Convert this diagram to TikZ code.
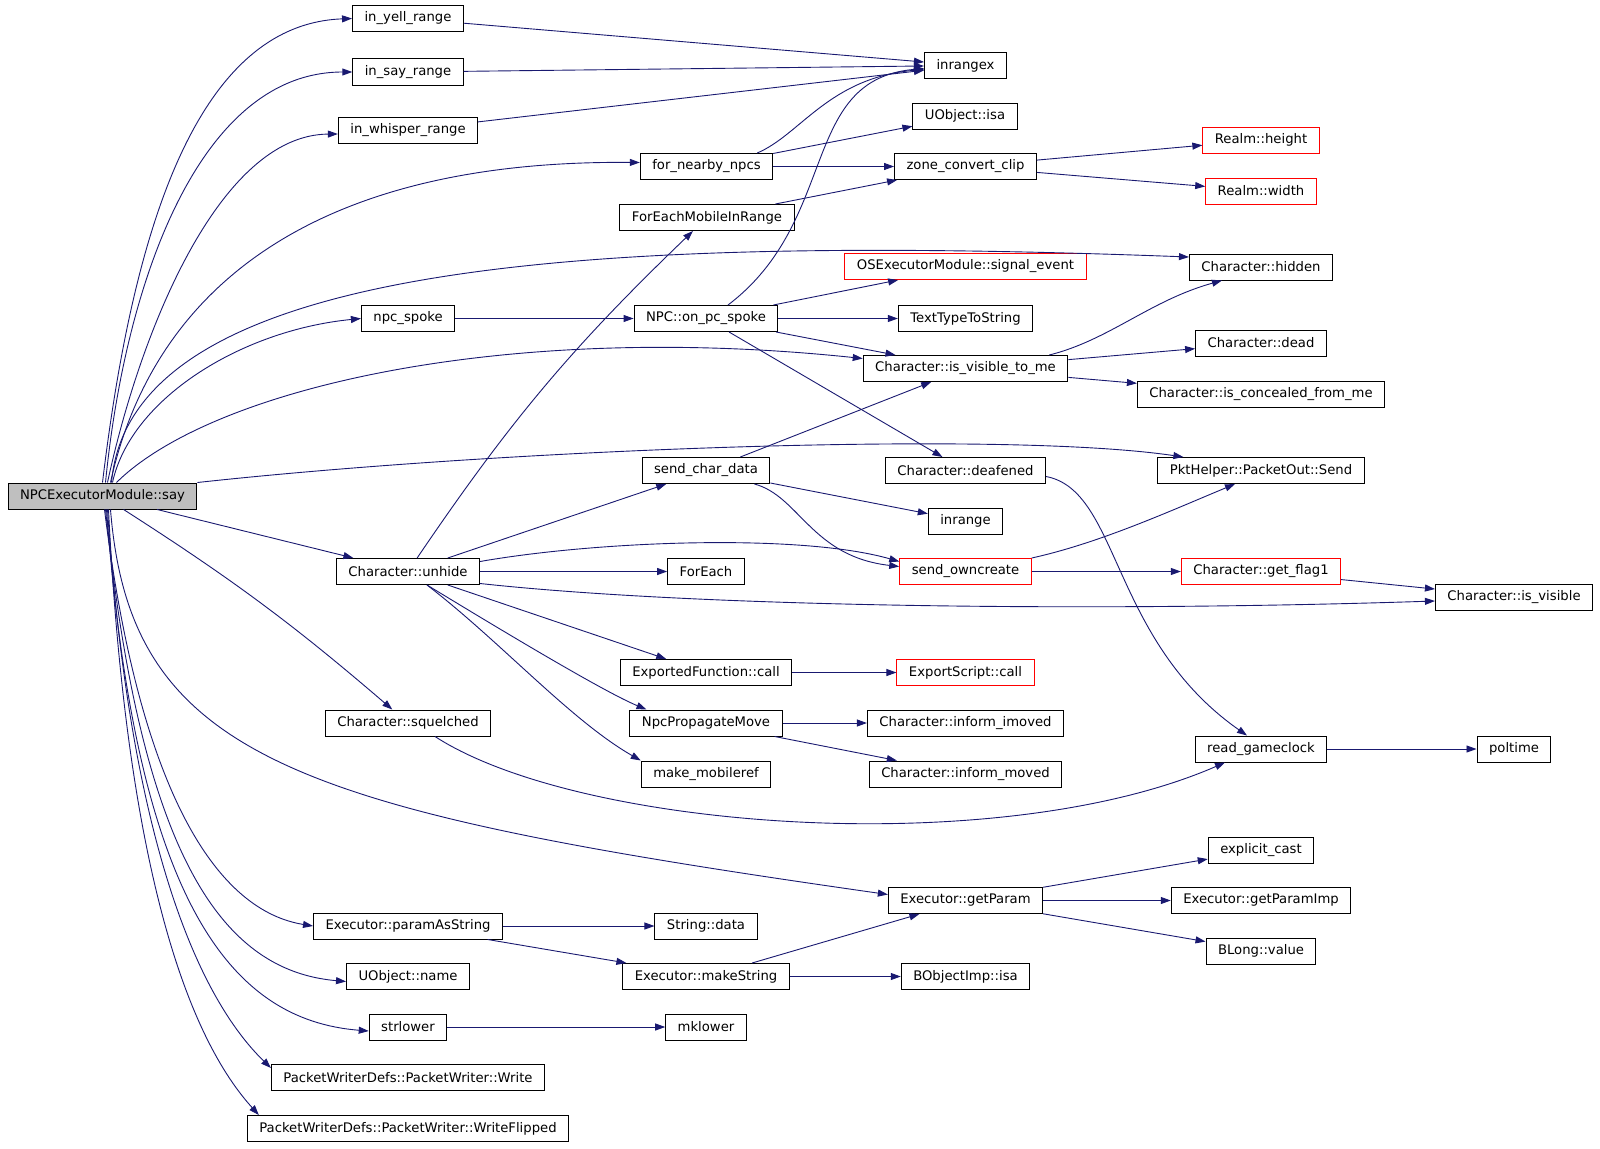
\documentclass[tikz,border=0pt]{standalone}
\usepackage{fontspec}
\setmainfont{DejaVu Sans}
\usetikzlibrary{arrows.meta}

\definecolor{callblue}{HTML}{191970}
\definecolor{rootgray}{HTML}{BFBFBF}

\begin{document}
\begin{tikzpicture}[x=1pt, y=-1pt,
    fn/.style={draw=black, line width=1pt, fill=white, minimum height=26pt,
        inner xsep=12pt, inner ysep=0pt, font=\fontsize{13.2}{16}\selectfont},
    undoc/.style={fn, draw=red},
    root/.style={fn, fill=rootgray},
    call/.style={draw=callblue, line width=0.9pt, -{Triangle[length=10pt,width=7pt]}}]
    \useasboundingbox (0,0) rectangle (1600,1148);

    \node[root] (say) at (102.5,496) {NPCExecutorModule::say};

    \node[fn] (inYellRange) at (408,18.5) {in\_yell\_range};
    \node[fn] (inSayRange) at (408,72) {in\_say\_range};
    \node[fn] (inWhisperRange) at (408,130) {in\_whisper\_range};
    \node[fn] (npcSpoke) at (408,318.5) {npc\_spoke};
    \node[fn] (charUnhide) at (408,571.5) {Character::unhide};
    \node[fn] (charSquelched) at (408,723) {Character::squelched};
    \node[fn] (paramAsString) at (408,926) {Executor::paramAsString};
    \node[fn] (uobjName) at (408,976.5) {UObject::name};
    \node[fn] (strLower) at (408,1027) {strlower};
    \node[fn] (pwWrite) at (408,1077.5) {PacketWriterDefs::PacketWriter::Write};
    \node[fn] (pwWriteFlipped) at (408,1128.5) {PacketWriterDefs::PacketWriter::WriteFlipped};

    \node[fn] (forNearbyNpcs) at (706.5,166.5) {for\_nearby\_npcs};
    \node[fn] (forEachMobile) at (707,217.5) {ForEachMobileInRange};
    \node[fn] (onPcSpoke) at (706,318.5) {NPC::on\_pc\_spoke};
    \node[fn] (sendCharData) at (706,470.5) {send\_char\_data};
    \node[fn] (forEach) at (706,571.5) {ForEach};
    \node[fn] (exportedCall) at (706,672.5) {ExportedFunction::call};
    \node[fn] (npcPropagateMove) at (706,723) {NpcPropagateMove};
    \node[fn] (makeMobileref) at (706,774) {make\_mobileref};
    \node[fn] (stringData) at (706,926) {String::data};
    \node[fn] (makeString) at (706,976.5) {Executor::makeString};
    \node[fn] (mkLower) at (706,1027) {mklower};

    \node[fn] (inRangeX) at (965.5,65.5) {inrangex};
    \node[fn] (uobjIsa) at (965,116) {UObject::isa};
    \node[fn] (zoneConvertClip) at (965.5,166.5) {zone\_convert\_clip};
    \node[undoc] (signalEvent) at (965.5,266.5) {OSExecutorModule::signal\_event};
    \node[fn] (textTypeToString) at (965.5,318.5) {TextTypeToString};
    \node[fn] (isVisibleToMe) at (965.5,368.5) {Character::is\_visible\_to\_me};
    \node[fn] (charDeafened) at (965.5,470.5) {Character::deafened};
    \node[fn] (inRange) at (965.5,521) {inrange};
    \node[undoc] (sendOwnCreate) at (965.5,571.5) {send\_owncreate};
    \node[undoc] (exportScriptCall) at (965.5,672.5) {ExportScript::call};
    \node[fn] (informImoved) at (965.5,723) {Character::inform\_imoved};
    \node[fn] (informMoved) at (965.5,774) {Character::inform\_moved};
    \node[fn] (getParam) at (965.5,900.5) {Executor::getParam};
    \node[fn] (bobjIsa) at (965.5,976.5) {BObjectImp::isa};

    \node[undoc] (realmHeight) at (1261,140) {Realm::height};
    \node[undoc] (realmWidth) at (1261,191) {Realm::width};
    \node[fn] (charHidden) at (1261,267) {Character::hidden};
    \node[fn] (charDead) at (1261,343) {Character::dead};
    \node[fn] (isConcealed) at (1261,394) {Character::is\_concealed\_from\_me};
    \node[fn] (packetSend) at (1261,470.5) {PktHelper::PacketOut::Send};
    \node[undoc] (getFlag) at (1261,571.5) {Character::get\_flag1};
    \node[fn] (readGameclock) at (1261,749) {read\_gameclock};
    \node[fn] (explicitCast) at (1261,850) {explicit\_cast};
    \node[fn] (getParamImp) at (1261,900.5) {Executor::getParamImp};
    \node[fn] (blongValue) at (1261,951) {BLong::value};

    \node[fn] (isVisible) at (1514,597) {Character::is\_visible};
    \node[fn] (polTime) at (1514,749) {poltime};

    % calls made by say
    \draw[call] (say.north) .. controls +(28,-233) and +(-162,6) .. (inYellRange.west);
    \draw[call] ([xshift=3pt]say.north) .. controls +(20,-203) and +(-152,0) .. (inSayRange.west);
    \draw[call] ([xshift=5pt]say.north) .. controls +(33,-153) and +(-118,1) .. ([yshift=-4pt]inWhisperRange.west);
    \draw[call] ([xshift=8pt]say.north) .. controls +(40,-183) and +(-340,-3) .. ([yshift=4pt]forNearbyNpcs.west);
    \draw[call] ([xshift=9pt]say.north) .. controls +(19,-223) and +(-589,-22) .. ([yshift=10pt]charHidden.west);
    \draw[call] ([xshift=10pt]say.north) .. controls +(18,-83) and +(-121,12) .. (npcSpoke.west);
    \draw[call] ([xshift=14pt]say.north) .. controls +(94,-93) and +(-362,-38) .. ([yshift=10pt]isVisibleToMe.west);
    \draw[call] (say.north east) .. controls +(302,-33) and +(-183,-27) .. ([xshift=26pt]packetSend.north west);
    \draw[call] (say) -- (charUnhide);
    \draw[call] (say) to[bend left=4] (charSquelched);
    \draw[call] ([xshift=8pt]say.south) .. controls +(20,251) and +(-589,-84) .. ([yshift=6pt]getParam.west);
    \draw[call] ([xshift=2pt]say.south) .. controls +(36,291) and +(-93,-15) .. (paramAsString.west);
    \draw[call] ([xshift=3pt]say.south) .. controls +(35,341) and +(-127,-11) .. ([yshift=-5pt]uobjName.west);
    \draw[call] ([xshift=4pt]say.south) .. controls +(29,391) and +(-139,-11) .. ([yshift=-4pt]strLower.west);
    \draw[call] ([xshift=5pt]say.south) .. controls +(23,341) and +(-70,-68) .. ([yshift=-4pt]pwWrite.north west);
    \draw[call] ([xshift=6pt]say.south) .. controls +(17,341) and +(-77,-85) .. ([xshift=12pt]pwWriteFlipped.north west);

    \draw[call] (inYellRange) -- (inRangeX);
    \draw[call] (inSayRange) -- (inRangeX);
    \draw[call] (inWhisperRange) -- (inRangeX);
    \draw[call] ([xshift=-16pt]forNearbyNpcs.north east) .. controls +(43,-18) and +(-95,8) .. ([yshift=-4pt]inRangeX.west);
    \draw[call] (forNearbyNpcs) -- (uobjIsa);
    \draw[call] (forNearbyNpcs) -- (zoneConvertClip);
    \draw[call] (forEachMobile) -- (zoneConvertClip);
    \draw[call] (zoneConvertClip) -- (realmHeight);
    \draw[call] (zoneConvertClip) -- (realmWidth);

    \draw[call] (npcSpoke) -- (onPcSpoke);
    \draw[call] ([xshift=22pt]onPcSpoke.north) .. controls +(112,-85) and +(-125,11) .. ([yshift=-3pt]inRangeX.west);
    \draw[call] (onPcSpoke) -- (signalEvent);
    \draw[call] (onPcSpoke) -- (textTypeToString);
    \draw[call] (onPcSpoke) -- (isVisibleToMe);
    \draw[call] (onPcSpoke) -- (charDeafened);
    \draw[call] ([xshift=-19pt]isVisibleToMe.north east) .. controls +(60,-15) and +(-72,20) .. ([xshift=33pt]charHidden.south west);
    \draw[call] (isVisibleToMe) -- (charDead);
    \draw[call] (isVisibleToMe) -- (isConcealed);

    \draw[call] (sendCharData) -- (isVisibleToMe);
    \draw[call] (sendCharData) -- (inRange);
    \draw[call] ([xshift=-16pt]sendCharData.south east) .. controls +(45,12) and +(-88,-10) .. ([yshift=5pt]sendOwnCreate.west);
    \draw[call] ([yshift=-6pt]charDeafened.east) .. controls +(74,14) and +(-137,-96) .. ([xshift=-14pt]readGameclock.north);

    \draw[call] (charUnhide) to[bend left=6] (forEachMobile);
    \draw[call] (charUnhide) -- (sendCharData);
    \draw[call] ([yshift=10pt]charUnhide.east) .. controls +(120,-21) and +(-98,-28) .. ([yshift=10pt]sendOwnCreate.west);
    \draw[call] (charUnhide) -- (forEach);
    \draw[call] ([yshift=-12pt]charUnhide.east) .. controls +(220,24) and +(-336,11) .. ([yshift=-4pt]isVisible.west);
    \draw[call] (charUnhide) -- (exportedCall);
    \draw[call] ([xshift=19pt]charUnhide.south) .. controls +(43,26) and +(-48,-20) .. ([xshift=17pt]npcPropagateMove.north west);
    \draw[call] ([xshift=19pt]charUnhide.south) .. controls +(73,56) and +(-70,-40) .. (makeMobileref.north west);
    \draw[call] (sendOwnCreate.north east) .. controls +(68,-15) and +(-65,27) .. ([xshift=-26pt]packetSend.south);
    \draw[call] (sendOwnCreate) -- (getFlag);
    \draw[call] (getFlag) -- (isVisible);

    \draw[call] (exportedCall) -- (exportScriptCall);
    \draw[call] (npcPropagateMove) -- (informImoved);
    \draw[call] (npcPropagateMove) -- (informMoved);
    \draw[call] ([xshift=27pt]charSquelched.south) .. controls +(145,94) and +(-225,98) .. ([xshift=-36pt]readGameclock.south);
    \draw[call] (readGameclock) -- (polTime);

    \draw[call] (getParam) -- (explicitCast);
    \draw[call] (getParam) -- (getParamImp);
    \draw[call] (getParam) -- (blongValue);
    \draw[call] (paramAsString) -- (stringData);
    \draw[call] (paramAsString) -- (makeString);
    \draw[call] (makeString) -- (getParam);
    \draw[call] (makeString) -- (bobjIsa);
    \draw[call] (strLower) -- (mkLower);

\end{tikzpicture}
\end{document}
